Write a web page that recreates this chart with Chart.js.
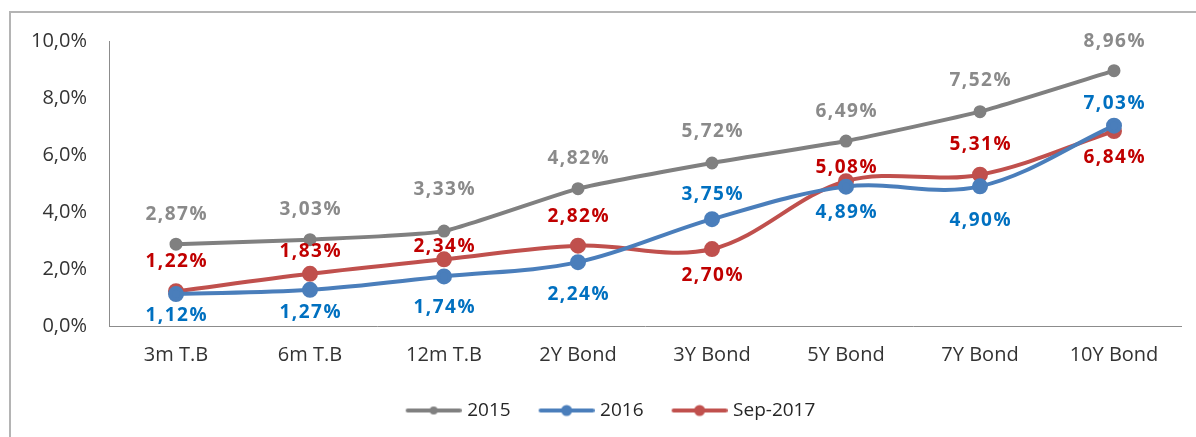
<!DOCTYPE html>
<html>
<head>
<meta charset="utf-8">
<script src="https://cdn.jsdelivr.net/npm/chart.js@4.4.1/dist/chart.umd.min.js"></script>
<style>
  html, body { margin: 0; padding: 0; background: #fff; overflow: hidden; }
  #frame { position: absolute; left: 9px; top: 11px; width: 1300px; height: 600px;
           border: 2px solid #b4b4b4; }
  #wrap { position: absolute; left: 0; top: 0; width: 1196px; height: 437px; }
</style>
</head>
<body>
<div id="frame"></div>
<div id="wrap"><canvas id="c" width="1196" height="437"></canvas></div>
<script>
// Yield curve: interest rates by maturity
const categories = ['3m T.B', '6m T.B', '12m T.B', '2Y Bond', '3Y Bond', '5Y Bond', '7Y Bond', '10Y Bond'];
const rates2015 = [2.87, 3.03, 3.33, 4.82, 5.72, 6.49, 7.52, 8.96];
const rates2016 = [1.12, 1.27, 1.74, 2.24, 3.75, 4.89, 4.90, 7.03];
const ratesSep2017 = [1.22, 1.83, 2.34, 2.82, 2.70, 5.08, 5.31, 6.84];
const yTicks = [0, 2, 4, 6, 8, 10];

// Value label placement: pixels above (+) or below (-) each point
const lift2015 = [30, 30, 42, 30, 31, 29, 31, 29];
const lift2016 = [-22, -23, -31, -32, 25, -26, -34, 22];
const liftSep2017 = [30, 22, 13, 29, -27, 14, 30, -27];

const FONT = "'Open Sans', 'Liberation Sans', Arial, sans-serif";
const fmtPct = (v, d) => v.toFixed(d).replace('.', ',') + '%';

// Legend marker: short line with a dot, sitting toward the right of its box
function legendMarker(color, r) {
  const cv = document.createElement('canvas');
  cv.width = 68; cv.height = 14;
  const g = cv.getContext('2d');
  g.strokeStyle = color; g.lineWidth = 4; g.lineCap = 'round';
  g.beginPath(); g.moveTo(14, 7); g.lineTo(66, 7); g.stroke();
  g.fillStyle = color;
  g.beginPath(); g.arc(40, 7, r, 0, Math.PI * 2); g.fill();
  return cv;
}

const valueLabels = {
  id: 'valueLabels',
  afterDatasetsDraw(chart) {
    const ctx = chart.ctx;
    ctx.save();
    ctx.font = "bold 19px " + FONT;
    ctx.letterSpacing = '1.5px';
    ctx.textAlign = 'center';
    ctx.textBaseline = 'middle';
    chart.data.datasets.forEach((ds, di) => {
      const meta = chart.getDatasetMeta(di);
      ctx.fillStyle = ds.labelColor;
      meta.data.forEach((pt, i) => {
        ctx.fillText(fmtPct(ds.data[i], 2), pt.x + 0.75, pt.y - ds.labelLift[i]);
      });
    });
    ctx.restore();
  }
};

// Nudge the legend row a little right of the canvas centre
const legendShift = {
  id: 'legendShift',
  afterLayout(chart) {
    if (chart.legend) { chart.legend.left += 16; chart.legend.right += 16; }
  }
};

const canvas = document.getElementById('c');
canvas.getContext('2d').letterSpacing = '0.5px';

new Chart(canvas, {
  type: 'line',
  data: {
    labels: categories,
    datasets: [
      { label: '2015', data: rates2015, borderColor: '#808080', backgroundColor: '#808080',
        borderWidth: 4, pointRadius: 4.5, pointHoverRadius: 4.5, tension: 0.15,
        labelColor: '#8a8a8a', labelLift: lift2015, marker: legendMarker('#808080', 4) },
      { label: '2016', data: rates2016, borderColor: '#4a7ebb', backgroundColor: '#4a7ebb',
        borderWidth: 4, pointRadius: 6, pointHoverRadius: 6, tension: 0.35,
        labelColor: '#0070c0', labelLift: lift2016, marker: legendMarker('#4a7ebb', 5.5) },
      { label: 'Sep-2017', data: ratesSep2017, borderColor: '#c0504d', backgroundColor: '#c0504d',
        borderWidth: 4, pointRadius: 6, pointHoverRadius: 6, tension: 0.35,
        labelColor: '#c00000', labelLift: liftSep2017, marker: legendMarker('#c0504d', 5.5) }
    ]
  },
  options: {
    responsive: false,
    animation: false,
    layout: { padding: { top: 41, right: 15, left: 0, bottom: 7 } },
    plugins: {
      tooltip: { enabled: false },
      legend: {
        position: 'bottom',
        labels: {
          usePointStyle: true,
          pointStyleWidth: 60,
          padding: 20,
          color: '#262626',
          font: { family: FONT, size: 19 },
          generateLabels(chart) {
            return chart.data.datasets.map((ds, i) => ({
              text: ds.label, pointStyle: ds.marker, fillStyle: ds.borderColor,
              strokeStyle: ds.borderColor, lineWidth: 0, hidden: false, datasetIndex: i,
              fontColor: '#262626'
            }));
          }
        }
      }
    },
    scales: {
      x: {
        offset: true,
        grid: { display: false, offset: true },
        border: { display: true, color: '#8c8c8c', width: 1 },
        ticks: { color: '#333333', padding: 9, font: { family: FONT, size: 20 } },
        afterFit(s) { s.height = 55; }
      },
      y: {
        min: 0, max: 10,
        afterBuildTicks(s) { s.ticks = yTicks.map(v => ({ value: v })); },
        grid: { display: false },
        border: { display: true, color: '#8c8c8c', width: 1 },
        ticks: { color: '#333333', padding: 14, font: { family: FONT, size: 20 },
                 callback: v => fmtPct(v, 1) },
        afterFit(s) { s.width = 109; }
      }
    }
  },
  plugins: [valueLabels, legendShift]
});
</script>
</body>
</html>
